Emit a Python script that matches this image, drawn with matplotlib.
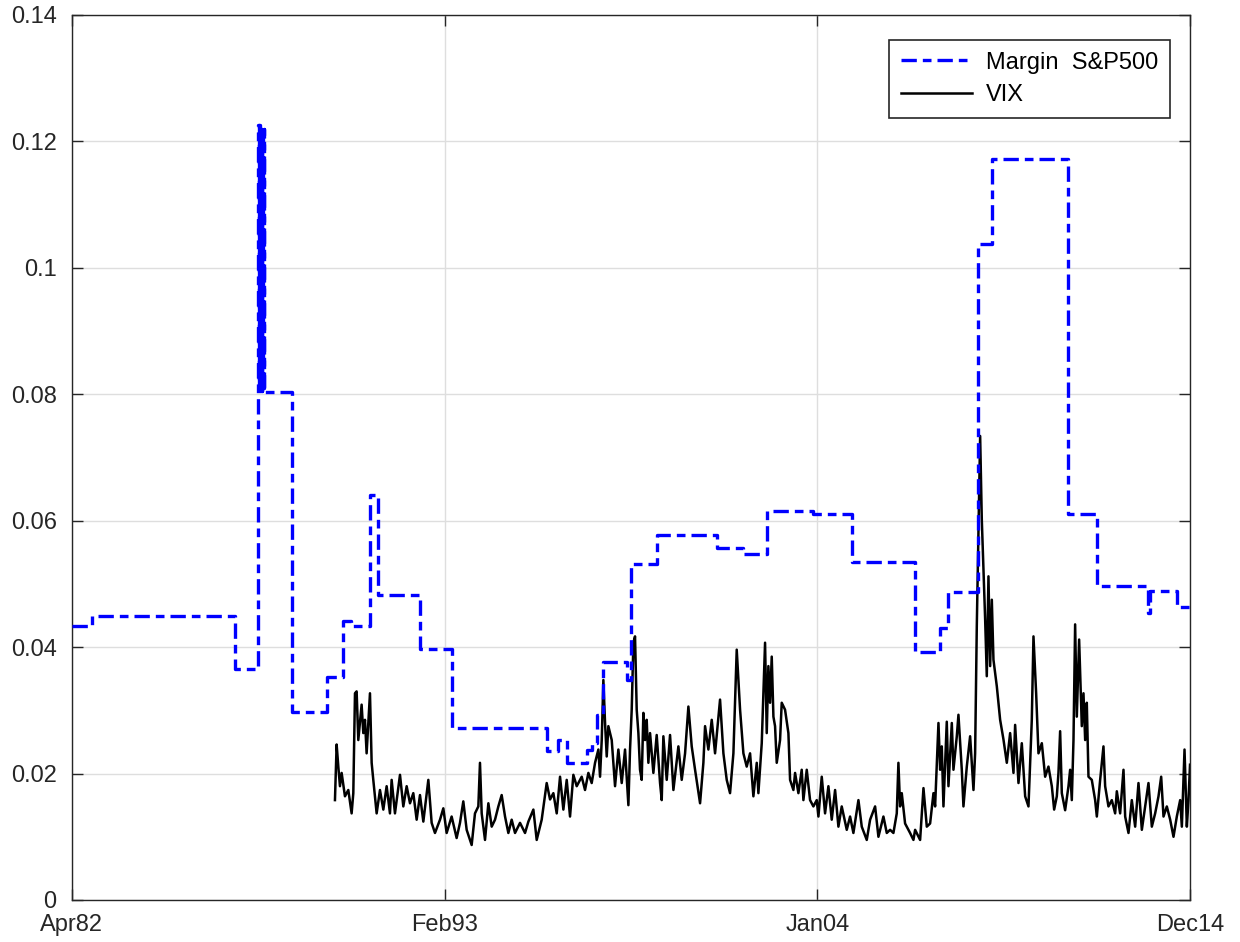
import numpy as np
import matplotlib.pyplot as plt

# Margin S&P500 (step series, decimal years)
margin_t = [1982.25, 1982.83, 1987.013, 1987.685, 1987.71, 1987.73, 1987.75, 1987.77,
            1987.79, 1987.81, 1987.83, 1987.85, 1987.87, 1988.679, 1989.702, 1990.169,
            1990.403, 1990.958, 1991.192, 1992.419, 1993.354, 1996.131, 1996.452,
            1996.715, 1997.30, 1997.446, 1997.592, 1997.768, 1998.469, 1998.586,
            1999.346, 2001.10, 2001.858, 2002.56, 2003.904, 2005.043, 2006.885,
            2007.615, 2007.849, 2008.726, 2009.135, 2011.356, 2012.203, 2013.694,
            2013.752, 2014.541, 2014.917]
margin_v = [0.0433, 0.0450, 0.0365, 0.1226, 0.0810, 0.1226, 0.0805, 0.1220,
            0.0805, 0.1215, 0.0810, 0.1220, 0.0803, 0.0297, 0.0352, 0.0441,
            0.0433, 0.0641, 0.0483, 0.0397, 0.0272, 0.0235, 0.0253,
            0.0217, 0.0238, 0.0249, 0.0293, 0.0377, 0.0348, 0.0531,
            0.0578, 0.0557, 0.0548, 0.0615, 0.0611, 0.0535, 0.0393,
            0.0430, 0.0487, 0.1037, 0.1172, 0.0611, 0.0496, 0.0454,
            0.0488, 0.0464, 0.0464]

# VIX (decimal years)
vix_t = [1989.935, 1989.984, 1990.033, 1990.081, 1990.13, 1990.227, 1990.325, 1990.422,
         1990.471, 1990.52, 1990.568, 1990.617, 1990.714, 1990.763, 1990.812, 1990.86,
         1990.958, 1991.007, 1991.055, 1991.153, 1991.25, 1991.348, 1991.445, 1991.542,
         1991.591, 1991.688, 1991.835, 1991.932, 1992.03, 1992.127, 1992.224, 1992.322,
         1992.419, 1992.517, 1992.663, 1992.76, 1992.857, 1993.004, 1993.101, 1993.198,
         1993.344, 1993.49, 1993.588, 1993.685, 1993.783, 1993.929, 1994.026, 1994.124,
         1994.172, 1994.222, 1994.319, 1994.417, 1994.514, 1994.611, 1994.709, 1994.806,
         1994.904, 1995.001, 1995.098, 1995.196, 1995.342, 1995.488, 1995.586, 1995.732,
         1995.829, 1995.975, 1996.121, 1996.219, 1996.316, 1996.414, 1996.511, 1996.608,
         1996.706, 1996.803, 1996.90, 1996.998, 1997.144, 1997.241, 1997.339, 1997.436,
         1997.534, 1997.631, 1997.68, 1997.729, 1997.777, 1997.826, 1997.875, 1997.923,
         1998.021, 1998.118, 1998.215, 1998.313, 1998.41, 1998.508, 1998.556, 1998.605,
         1998.654, 1998.702, 1998.751, 1998.80, 1998.848, 1998.897, 1998.946, 1998.995,
         1999.043, 1999.092, 1999.141, 1999.238, 1999.335, 1999.433, 1999.482, 1999.53,
         1999.628, 1999.725, 1999.823, 1999.969, 2000.066, 2000.164, 2000.261, 2000.358,
         2000.456, 2000.602, 2000.699, 2000.748, 2000.845, 2000.943, 2001.04, 2001.186,
         2001.284, 2001.381, 2001.478, 2001.576, 2001.673, 2001.771, 2001.868, 2001.965,
         2002.063, 2002.16, 2002.258, 2002.306, 2002.404, 2002.501, 2002.55, 2002.598,
         2002.647, 2002.696, 2002.745, 2002.793, 2002.842, 2002.939, 2002.988, 2003.085,
         2003.183, 2003.232, 2003.329, 2003.378, 2003.475, 2003.572, 2003.621, 2003.719,
         2003.816, 2003.913, 2004.011, 2004.06, 2004.157, 2004.254, 2004.352, 2004.449,
         2004.547, 2004.644, 2004.741, 2004.888, 2004.985, 2005.082, 2005.229, 2005.326,
         2005.472, 2005.57, 2005.716, 2005.813, 2005.959, 2006.057, 2006.154, 2006.251,
         2006.349, 2006.397, 2006.446, 2006.495, 2006.592, 2006.738, 2006.836, 2006.885,
         2007.031, 2007.129, 2007.226, 2007.323, 2007.421, 2007.469, 2007.567, 2007.616,
         2007.664, 2007.713, 2007.81, 2007.859, 2007.957, 2008.005, 2008.103, 2008.151,
         2008.249, 2008.297, 2008.395, 2008.492, 2008.59, 2008.638, 2008.687, 2008.785,
         2008.833, 2008.882, 2008.931, 2008.979, 2009.028, 2009.077, 2009.126, 2009.174,
         2009.272, 2009.369, 2009.466, 2009.564, 2009.661, 2009.759, 2009.807, 2009.905,
         2010.002, 2010.10, 2010.197, 2010.294, 2010.343, 2010.421, 2010.489, 2010.587,
         2010.684, 2010.781, 2010.879, 2010.947, 2011.025, 2011.073, 2011.122, 2011.171,
         2011.268, 2011.366, 2011.414, 2011.463, 2011.512, 2011.56, 2011.609, 2011.677,
         2011.755, 2011.804, 2011.853, 2011.901, 2011.95, 2012.047, 2012.145, 2012.194,
         2012.291, 2012.388, 2012.437, 2012.534, 2012.632, 2012.729, 2012.778, 2012.875,
         2012.973, 2013.022, 2013.119, 2013.216, 2013.314, 2013.411, 2013.509, 2013.606,
         2013.703, 2013.801, 2013.898, 2013.996, 2014.074, 2014.142, 2014.239, 2014.337,
         2014.434, 2014.531, 2014.629, 2014.678, 2014.756, 2014.824, 2014.872, 2014.917]
vix_v = [0.0158, 0.0246, 0.0211, 0.0180, 0.0201, 0.0164, 0.0174, 0.0137,
         0.0169, 0.0327, 0.0330, 0.0253, 0.0309, 0.0264, 0.0285, 0.0232,
         0.0327, 0.0217, 0.0190, 0.0137, 0.0174, 0.0143, 0.0180, 0.0137,
         0.0190, 0.0137, 0.0198, 0.0148, 0.0180, 0.0153, 0.0169, 0.0127,
         0.0166, 0.0124, 0.0190, 0.0122, 0.0106, 0.0127, 0.0145, 0.0106,
         0.0132, 0.0098, 0.0122, 0.0156, 0.0111, 0.0087, 0.0137, 0.0148,
         0.0217, 0.0137, 0.0095, 0.0153, 0.0116, 0.0127, 0.0148, 0.0166,
         0.0132, 0.0106, 0.0127, 0.0106, 0.0122, 0.0106, 0.0124, 0.0143,
         0.0095, 0.0127, 0.0185, 0.0159, 0.0169, 0.0137, 0.0195, 0.0143,
         0.0190, 0.0132, 0.0198, 0.0180, 0.0195, 0.0174, 0.0201, 0.0185,
         0.0217, 0.0238, 0.0195, 0.0253, 0.0348, 0.0280, 0.0227, 0.0275,
         0.0253, 0.0180, 0.0238, 0.0185, 0.0238, 0.0150, 0.0238, 0.0301,
         0.0407, 0.0417, 0.0301, 0.0264, 0.0206, 0.0190, 0.0296, 0.0253,
         0.0285, 0.0217, 0.0264, 0.0201, 0.0261, 0.0185, 0.0158, 0.0259,
         0.0190, 0.0261, 0.0174, 0.0243, 0.0190, 0.0232, 0.0306, 0.0243,
         0.0206, 0.0153, 0.0217, 0.0275, 0.0238, 0.0285, 0.0232, 0.0317,
         0.0232, 0.0190, 0.0169, 0.0232, 0.0396, 0.0301, 0.0232, 0.0211,
         0.0232, 0.0164, 0.0217, 0.0169, 0.0248, 0.0407, 0.0264, 0.0370,
         0.0312, 0.0385, 0.0290, 0.0275, 0.0217, 0.0253, 0.0312, 0.0301,
         0.0264, 0.0190, 0.0174, 0.0201, 0.0169, 0.0206, 0.0158, 0.0206,
         0.0158, 0.0148, 0.0158, 0.0132, 0.0195, 0.0137, 0.0180, 0.0127,
         0.0174, 0.0116, 0.0148, 0.0111, 0.0132, 0.0106, 0.0158, 0.0116,
         0.0095, 0.0127, 0.0148, 0.0100, 0.0132, 0.0106, 0.0111, 0.0106,
         0.0137, 0.0217, 0.0148, 0.0169, 0.0121, 0.0106, 0.0095, 0.0111,
         0.0095, 0.0177, 0.0116, 0.0121, 0.0169, 0.0148, 0.0280, 0.0206,
         0.0243, 0.0148, 0.0282, 0.0180, 0.0280, 0.0206, 0.0259, 0.0293,
         0.0206, 0.0148, 0.0211, 0.0259, 0.0174, 0.0232, 0.0433, 0.0734,
         0.0602, 0.0523, 0.0444, 0.0354, 0.0512, 0.0370, 0.0475, 0.0380,
         0.0338, 0.0285, 0.0254, 0.0217, 0.0264, 0.0201, 0.0277, 0.0185,
         0.0248, 0.0164, 0.0148, 0.0285, 0.0417, 0.0327, 0.0232, 0.0248,
         0.0195, 0.0211, 0.0180, 0.0143, 0.0164, 0.0201, 0.0267, 0.0169,
         0.0142, 0.0180, 0.0206, 0.0158, 0.0253, 0.0436, 0.0290, 0.0412,
         0.0275, 0.0327, 0.0253, 0.0312, 0.0195, 0.0190, 0.0158, 0.0132,
         0.0190, 0.0243, 0.0180, 0.0148, 0.0158, 0.0137, 0.0172, 0.0137,
         0.0206, 0.0132, 0.0106, 0.0158, 0.0116, 0.0185, 0.0111, 0.0148,
         0.0185, 0.0116, 0.0137, 0.0164, 0.0195, 0.0132, 0.0148, 0.0127,
         0.0100, 0.0132, 0.0158, 0.0116, 0.0238, 0.0116, 0.0158, 0.0214]

tick_labels = ["Apr82", "Feb93", "Jan04", "Dec14"]
y_ticks = [0, 0.02, 0.04, 0.06, 0.08, 0.1, 0.12, 0.14]

plt.rcParams['font.family'] = ['Liberation Sans', 'DejaVu Sans']

fig = plt.figure(figsize=(12.4, 9.42), dpi=100)
ax = fig.add_axes([0.058, 0.0446, 0.9017, 0.9395])

ax.plot(margin_t, margin_v, color='#0000ff', lw=2.4, drawstyle='steps-post',
        dashes=(4.6, 1.8, 2.6, 1.8), dash_capstyle='butt', label='Margin  S&P500', zorder=3)
ax.plot(vix_t, vix_v, color='black', lw=1.8, label='VIX', zorder=2)

x0, x1 = margin_t[0], margin_t[-1]
ax.set_xlim(x0, x1)
ax.set_ylim(0, 0.14)
ax.set_xticks(np.linspace(x0, x1, 4))
ax.set_xticklabels(tick_labels)
ax.set_yticks(y_ticks)
ax.set_yticklabels(["0", "0.02", "0.04", "0.06", "0.08", "0.1", "0.12", "0.14"])

ax.grid(True, color='#dedede', lw=1)
ax.set_axisbelow(True)
ax.tick_params(direction='in', top=True, right=True, length=8, width=1,
               labelsize=17, colors='#262626')
ax.tick_params(axis='y', pad=11)
ax.tick_params(axis='x', pad=10)
for s in ax.spines.values():
    s.set_color('#262626')
    s.set_linewidth(1)

leg = ax.legend(loc='upper right', bbox_to_anchor=(0.982, 0.972), borderaxespad=0,
                fancybox=False, edgecolor='#262626', fontsize=17, handlelength=3.0,
                framealpha=1, borderpad=0.5, labelspacing=0.45, handletextpad=0.6)
leg.get_frame().set_linewidth(1.2)

fig.savefig('out.png', dpi=100)
